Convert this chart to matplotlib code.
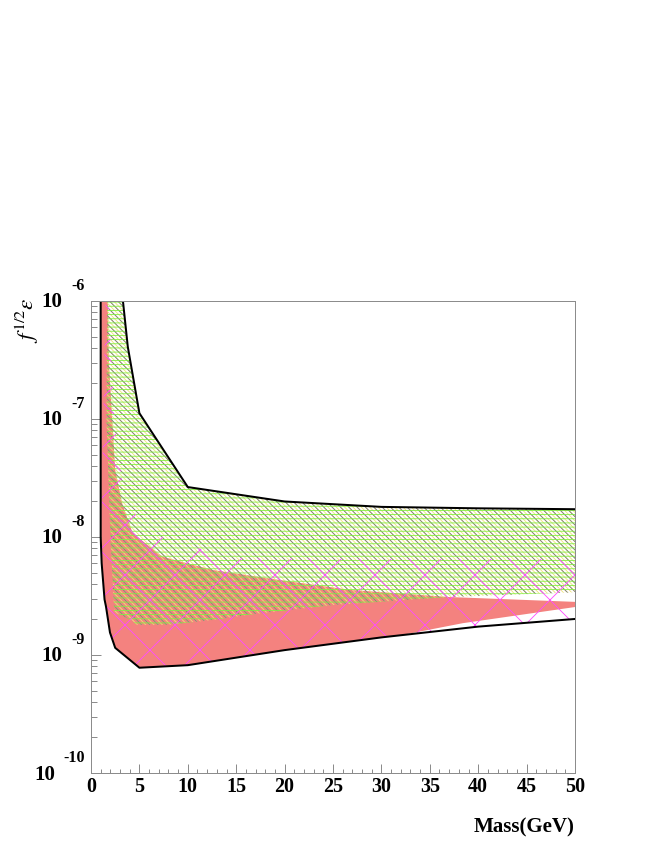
import numpy as np
import matplotlib
matplotlib.use("Agg")
import matplotlib.pyplot as plt
from matplotlib.ticker import MultipleLocator, LogLocator, NullFormatter

DPI = 150
W, H = 654, 846


def px(v):
    # pixel size -> points at this dpi
    return v * 72.0 / DPI


# black envelope, lower/left branch and upper branch
env_low_mass = [1.0, 1.0, 1.1, 1.4, 1.55, 1.96, 2.5, 5, 10, 20, 30, 40, 50]
env_low_eps = [3e-6, 1e-8, 6.0e-9, 2.95e-9, 2.57e-9, 1.55e-9, 1.15e-9, 7.8e-10, 8.2e-10,
               1.1e-9, 1.41e-9, 1.74e-9, 2.02e-9]
env_up_mass = [3.15, 3.3, 3.8, 5, 10, 20, 30, 40, 50]
env_up_eps = [2e-6, 1e-6, 4.1e-7, 1.12e-7, 2.65e-8, 2.0e-8, 1.8e-8, 1.75e-8, 1.72e-8]

# red (dense) region
red_mass = [1.0, 1.65, 1.85, 2.2, 2.5, 3.2, 4.3, 7.4, 12.6, 19.5, 26.8, 37, 50,
            50, 38.4, 32, 30, 20, 10, 5, 2.5, 1.96, 1.55, 1.4, 1.1, 1.0]
red_eps = [3e-6, 3e-6, 3e-7, 9.8e-8, 3.7e-8, 1.95e-8, 1.08e-8, 6.8e-9, 5.25e-9, 4.32e-9,
           3.56e-9, 3.1e-9, 2.82e-9,
           2.55e-9, 1.86e-9, 1.47e-9, 1.41e-9, 1.1e-9, 8.2e-10, 7.8e-10, 1.15e-9, 1.55e-9,
           2.57e-9, 2.95e-9, 6.0e-9, 1e-8]

# gray / yellow / green hatched region
band_mass = [1.7, 3.15, 3.3, 3.8, 5, 10, 20, 30, 40, 50,
             50, 37, 25, 16.4, 13, 8, 4.75, 4.0, 2.4, 2.0, 1.6]
band_eps = [3e-6, 2e-6, 1e-6, 4.1e-7, 1.12e-7, 2.65e-8, 2.0e-8, 1.8e-8, 1.75e-8, 1.72e-8,
            3.4e-9, 3.1e-9, 2.65e-9, 2.2e-9, 2.0e-9, 1.8e-9, 1.8e-9, 2.0e-9, 2.3e-9, 1e-8, 1e-7]

# magenta cross-hatched region
cross_mass = [1.6, 2.4, 3.3, 4.75, 6, 10, 15, 30, 50,
              50, 40, 30, 20, 10, 5, 2.5, 1.96, 1.55, 1.4, 1.1, 1.05]
cross_eps = [3e-6, 1e-7, 2.6e-8, 1.5e-8, 1.08e-8, 8.5e-9, 6.6e-9, 6.5e-9, 6.5e-9,
             2.02e-9, 1.74e-9, 1.41e-9, 1.1e-9, 8.2e-10, 7.8e-10, 1.15e-9, 1.55e-9, 2.57e-9,
             2.95e-9, 6.0e-9, 1e-8]

decades = [-6, -7, -8, -9, -10]

plt.rcParams['hatch.linewidth'] = px(0.85)
plt.rcParams['mathtext.fontset'] = 'stix'
FONT = 'Liberation Serif'
GRAY = '#8c8c8c'

fig = plt.figure(figsize=(W / DPI, H / DPI), dpi=DPI)
ax = fig.add_axes([91 / W, 1 - 773 / H, (575 - 91) / W, (773 - 301) / H])

ax.fill(red_mass, red_eps, facecolor='#f4827f', edgecolor='none', lw=0, zorder=1)
ax.fill(band_mass, band_eps, facecolor='none', edgecolor='#ece27a', hatch='\\' * 12, lw=0, zorder=1.2)
ax.fill(band_mass, band_eps, facecolor='none', edgecolor='#7a7a7a', hatch='\\' * 6, lw=0, zorder=1.3)
ax.fill(band_mass, band_eps, facecolor='none', edgecolor='#80f040', hatch='-' * 6, lw=0, zorder=1.4)
ax.fill(cross_mass, cross_eps, facecolor='none', edgecolor='#ff4cff', hatch='x', lw=0, zorder=1.5)

ax.plot(env_low_mass, env_low_eps, color='black', lw=px(2), zorder=3)
ax.plot(env_up_mass, env_up_eps, color='black', lw=px(2), zorder=3)

ax.set_yscale('log')
ax.set_xlim(0, 50)
ax.set_ylim(1e-10, 1e-6)

ax.xaxis.set_major_locator(MultipleLocator(5))
ax.xaxis.set_minor_locator(MultipleLocator(1))
ax.yaxis.set_major_locator(LogLocator(base=10, numticks=10))
ax.yaxis.set_minor_locator(LogLocator(base=10, subs=np.arange(2, 10), numticks=10))
ax.yaxis.set_major_formatter(NullFormatter())
ax.yaxis.set_minor_formatter(NullFormatter())

ax.tick_params(which='both', direction='in', color=GRAY, width=px(1),
               top=False, right=False)
ax.tick_params(axis='y', which='major', length=px(10))
ax.tick_params(axis='y', which='minor', length=px(6))
ax.tick_params(axis='x', which='major', length=px(9), pad=px(4))
ax.tick_params(axis='x', which='minor', length=px(4.5))
for lab in ax.get_xticklabels():
    lab.set_fontfamily(FONT)
    lab.set_fontweight('bold')
    lab.set_fontsize(px(20))

for s in ax.spines.values():
    s.set_color(GRAY)
    s.set_linewidth(px(1))
    s.set_zorder(4)

# ROOT style decade labels: "10" with exponent raised at the right
for d in decades:
    base_dx, base_dy = (-36, -2) if d == -10 else (-29, -1)
    ax.annotate('10', xy=(0, 10.0 ** d), xycoords=('axes fraction', 'data'),
                xytext=(px(base_dx), px(base_dy)), textcoords='offset points',
                ha='right', va='center', fontfamily=FONT, fontweight='bold',
                fontsize=px(21), annotation_clip=False)
    ax.annotate(str(d), xy=(0, 10.0 ** d), xycoords=('axes fraction', 'data'),
                xytext=(px(-6), px(15)), textcoords='offset points',
                ha='right', va='center', fontfamily=FONT, fontweight='bold',
                fontsize=px(16), annotation_clip=False)

ax.annotate('Mass(GeV)', xy=(1, 0), xycoords='axes fraction',
            xytext=(0, px(-54)), textcoords='offset points', ha='right', va='center',
            fontfamily=FONT, fontweight='bold', fontsize=px(21), annotation_clip=False)
ax.annotate(r'$f^{1/2}\varepsilon$', xy=(0, 1), xycoords='axes fraction',
            xytext=(px(-64), px(4)), textcoords='offset points', ha='center', va='top',
            rotation=90, fontsize=px(23), annotation_clip=False)

fig.savefig('out.png', dpi=DPI)
